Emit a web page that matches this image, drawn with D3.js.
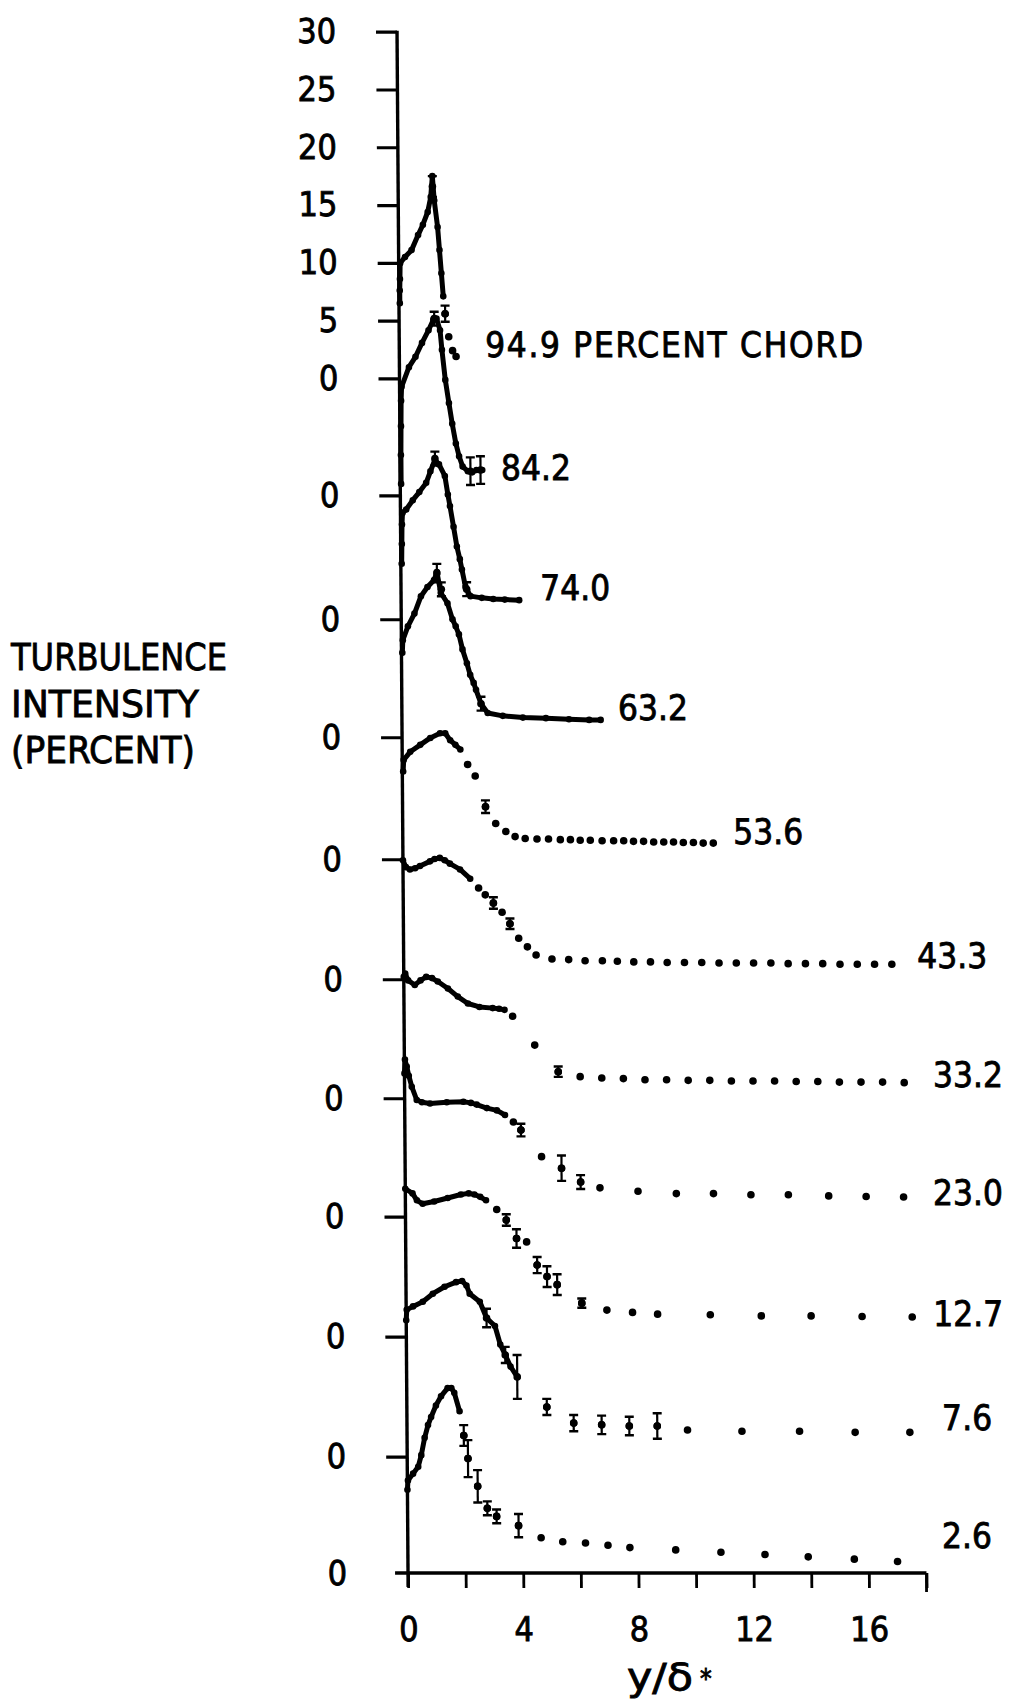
<!DOCTYPE html>
<html><head><meta charset="utf-8">
<script src="https://cdn.jsdelivr.net/npm/d3@7"></script>
<style>body{margin:0;background:#fff} svg{display:block} text{stroke:#000;stroke-width:0.8px}</style>
</head><body>
<svg id="c" width="1020" height="1702"></svg>
<script>
// ---------------- DATA ----------------
const stations = ["94.9","84.2","74.0","63.2","53.6","43.3","33.2","23.0","12.7","7.6","2.6"];
// zero of each curve, in percent units of the common intensity scale
const baseOffsets = [0, -10.13, -20.84, -31.05, -41.61, -51.99, -62.29, -72.54, -82.92, -93.3, -103.37];
const topTicks = [0, 5, 10, 15, 20, 25, 30];
const xTicks = [0, 2, 4, 6, 8, 10, 12, 14, 16, 18];
const xTickLabels = [0, 4, 8, 12, 16];

// dense (near-continuous) measurements: [y/delta*, intensity %]
const lineData = [
  [[0.03,6.5],[0.03,7.6],[0.04,8.6],[0.05,9.96],[0.22,10.5],[0.45,11.1],[0.68,12.4],[0.85,13.3],[1.02,14.4],[1.13,15.7],[1.19,17.5],[1.25,15.4],[1.36,13.1],[1.42,11.1],[1.48,9.1],[1.54,7.1]],
  [[0.03,1.0],[0.03,3.5],[0.04,6.0],[0.05,8.2],[0.07,9.4],[0.33,11.1],[0.56,12.0],[0.79,13.2],[1.02,14.3],[1.19,15.2],[1.3,15.3],[1.42,14.3],[1.48,12.6],[1.59,10.0],[1.71,8.0],[1.82,6.2],[1.94,4.5],[2.05,3.4],[2.17,2.5],[2.35,2.1],[2.5,2.0],[2.65,2.2],[2.85,2.2]],
  [[0.03,4.8],[0.04,6.5],[0.05,8.2],[0.07,9.2],[0.2,9.5],[0.43,10.3],[0.66,11.0],[0.9,11.8],[1.05,12.8],[1.21,13.8],[1.35,13.4],[1.55,12.4],[1.65,10.8],[1.72,9.8],[1.84,8.0],[1.95,6.3],[2.05,5.2],[2.12,4.3],[2.24,2.8],[2.41,2.0],[2.8,1.85],[3.2,1.75],[3.6,1.7],[4.1,1.65]],
  [[0.03,7.3],[0.05,8.4],[0.23,9.6],[0.46,10.7],[0.69,12.2],[0.92,13.0],[1.15,13.6],[1.25,14.3],[1.38,12.5],[1.61,11.6],[1.78,10.2],[1.89,9.6],[2.0,8.9],[2.12,7.6],[2.27,6.4],[2.38,5.4],[2.5,4.7],[2.58,4.1],[2.75,2.9],[2.98,2.1],[3.5,1.85],[4.2,1.7],[5.0,1.65],[5.8,1.55],[6.5,1.5],[6.9,1.5]],
  [[0.03,7.6],[0.05,8.6],[0.28,9.3],[0.63,9.9],[0.98,10.5],[1.32,10.9],[1.5,10.9],[1.67,10.3],[1.85,9.9],[2.02,9.5]],
  [[0.0,10.3],[0.1,9.7],[0.24,9.5],[0.42,9.6],[0.59,9.8],[0.94,10.2],[1.1,10.4],[1.28,10.5],[1.45,10.3],[1.63,10.0],[1.98,9.5],[2.33,8.7]],
  [[0.0,10.5],[0.05,10.8],[0.15,10.2],[0.38,9.8],[0.58,10.2],[0.78,10.5],[0.98,10.4],[1.18,10.1],[1.53,9.5],[1.87,8.8],[2.22,8.2],[2.62,7.9],[3.08,7.8],[3.3,7.75],[3.49,7.65]],
  [[0.0,12.4],[0.02,13.6],[0.08,13.0],[0.15,12.2],[0.25,11.25],[0.42,10.1],[0.6,9.9],[0.88,9.8],[1.46,9.9],[2.04,9.95],[2.3,9.85],[2.5,9.7],[2.85,9.4],[3.2,9.2],[3.48,8.8]],
  [[0.0,12.8],[0.25,12.4],[0.4,11.8],[0.6,11.5],[1.0,11.7],[1.47,12.0],[1.93,12.3],[2.2,12.4],[2.4,12.3],[2.6,12.1],[2.8,11.8]],
  [[0.0,11.8],[0.02,12.7],[0.24,13.0],[0.58,13.4],[0.93,14.1],[1.34,14.7],[1.74,15.1],[1.95,15.2],[2.1,14.8],[2.21,14.1],[2.56,13.4],[2.79,12.0],[3.08,11.3],[3.26,9.7],[3.43,8.8],[3.61,7.8],[3.84,6.9]],
  [[0.0,7.2],[0.02,8.0],[0.2,8.6],[0.38,9.2],[0.49,10.2],[0.61,11.7],[0.73,12.8],[0.84,13.5],[1.01,14.5],[1.19,15.3],[1.42,16.0],[1.55,16.0],[1.65,15.6],[1.83,14.0]]
];

// separate (sparse) measurement points
const dotData = [
  [[1.6,5.6],[1.72,3.6],[1.85,2.4],[1.97,1.9]],
  [],
  [],
  [],
  [[2.27,8.2],[2.53,7.2],[2.88,4.55],[3.23,3.1],[3.58,2.4],[3.9,1.96],[4.25,1.8],[4.66,1.75],[5.06,1.75],[5.47,1.7],[5.82,1.7],[6.16,1.65],[6.51,1.65],[6.92,1.6],[7.32,1.6],[7.67,1.6],[8.01,1.55],[8.36,1.55],[8.71,1.5],[9.06,1.5],[9.4,1.5],[9.74,1.45],[10.09,1.45],[10.43,1.4],[10.78,1.4]],
  [[2.62,7.9],[2.85,7.3],[3.13,6.6],[3.43,5.8],[3.7,4.8],[4.0,3.55],[4.3,2.8],[4.6,2.1],[5.15,1.75],[5.73,1.7],[6.3,1.6],[6.9,1.6],[7.42,1.55],[7.99,1.5],[8.57,1.5],[9.15,1.45],[9.75,1.45],[10.35,1.45],[10.95,1.4],[11.55,1.4],[12.15,1.4],[12.75,1.4],[13.35,1.35],[13.95,1.35],[14.55,1.35],[15.15,1.3],[15.75,1.3],[16.35,1.3],[16.95,1.3]],
  [[3.77,7.1],[4.53,4.6],[5.34,2.3],[6.1,1.87],[6.85,1.75],[7.6,1.7],[8.35,1.6],[9.1,1.6],[9.85,1.55],[10.6,1.55],[11.35,1.5],[12.1,1.5],[12.85,1.5],[13.6,1.45],[14.35,1.45],[15.1,1.4],[15.85,1.4],[16.6,1.4],[17.35,1.35]],
  [[3.77,8.2],[4.03,7.5],[4.74,5.2],[5.43,4.2],[6.09,3.0],[6.76,2.5],[8.08,2.2],[9.41,2.0],[10.7,2.0],[12.0,1.9],[13.3,1.9],[14.7,1.8],[16.0,1.75],[17.3,1.7]],
  [[3.17,11.0],[3.5,10.1],[3.85,8.5],[4.2,8.2],[4.56,6.2],[4.9,5.2],[5.25,4.5],[6.1,2.9],[6.97,2.3],[7.86,2.1],[8.73,1.95],[10.56,1.9],[12.33,1.8],[14.06,1.8],[15.83,1.75],[17.57,1.7]],
  [[4.86,4.3],[5.79,2.9],[6.76,2.75],[7.72,2.65],[8.69,2.65],[9.74,2.3],[11.63,2.2],[13.63,2.2],[15.56,2.1],[17.46,2.1]],
  [[1.97,11.9],[2.11,9.9],[2.44,7.5],[2.77,5.6],[3.09,4.9],[3.85,4.1],[4.63,3.05],[5.38,2.7],[6.17,2.6],[6.95,2.4],[7.71,2.2],[9.3,2.0],[10.87,1.8],[12.4,1.6],[13.9,1.4],[15.5,1.2],[17.0,1.0]]
];

// error bars: [y/delta*, intensity %, half range %]
const errData = [
  [[1.19,16.6,0.9],[1.6,5.6,0.7]],
  [[1.22,15.3,0.6],[2.44,2.1,1.2],[2.79,2.2,1.2]],
  [[1.21,13.9,0.6],[2.28,2.6,0.6]],
  [[1.25,14.2,0.8],[1.4,12.8,0.6],[2.75,2.9,0.6]],
  [[2.88,4.55,0.55]],
  [[3.13,6.6,0.5],[3.7,4.8,0.45]],
  [[5.34,2.3,0.45]],
  [[4.03,7.5,0.55],[5.43,4.2,1.1],[6.09,3.0,0.6]],
  [[3.5,10.1,0.5],[3.85,8.5,0.8],[4.56,6.2,0.7],[4.9,5.2,0.9],[5.25,4.5,0.9],[6.1,2.9,0.4]],
  [[2.79,12.0,0.8],[3.43,8.8,0.7],[3.84,6.9,1.9],[4.86,4.3,0.7],[5.79,2.9,0.7],[6.76,2.75,0.8],[7.72,2.65,0.8],[8.69,2.65,1.1]],
  [[1.97,11.9,0.9],[2.11,9.9,1.6],[2.44,7.5,1.4],[2.77,5.6,0.6],[3.09,4.9,0.6],[3.85,4.1,1.0]]
];

// label anchors (data units, relative to each curve's zero)
const labelAt = [[2.98,2.98],[3.5,2.47],[4.83,2.75],[7.5,2.62],[11.47,2.45],[17.83,2.1],[18.35,2.1],[18.32,2.13],[18.3,2.04],[18.58,3.4],[18.55,3.29]];

// ---------------- DRAW ----------------
const W = 1020, H = 1702;
const svg = d3.select('#c');
svg.append('rect').attr('width', W).attr('height', H).attr('fill', '#fff');
const FONT = '"DejaVu Sans Condensed","DejaVu Sans",sans-serif';
const shear = 0.00714; // slight skew of the scanned original
const g = svg.append('g').attr('transform', `skewX(${Math.atan(shear) * 180 / Math.PI})`);

const x = d3.scaleLinear().domain([0, 18]).range([396.8, 396.8 + 18 * 28.8]);
const y = d3.scaleLinear().domain([0, 30]).range([378.4, 31.7]);
const yBottom = y(baseOffsets[baseOffsets.length - 1]);

// vertical axis line
g.append('line').attr('x1', x(0)).attr('x2', x(0)).attr('y1', y(30) - 1).attr('y2', yBottom + 14)
  .attr('stroke', '#000').attr('stroke-width', 3.4);

// top scale
const topAxis = g.append('g').attr('transform', `translate(${x(0)},0)`)
  .call(d3.axisLeft(y).tickValues(topTicks).tickSize(21).tickPadding(40).tickFormat(d3.format('d')));
// zero ticks for the lower curves
const zeroAxis = g.append('g').attr('transform', `translate(${x(0)},0)`)
  .call(d3.axisLeft(y).tickValues(baseOffsets.slice(1, -1)).tickSize(21).tickPadding(40).tickFormat(() => '0'));
[topAxis, zeroAxis].forEach(a => {
  a.select('.domain').remove();
  a.selectAll('.tick line').attr('stroke', '#000').attr('stroke-width', 3.2);
  a.selectAll('.tick text').attr('fill', '#000').style('font-family', FONT).style('font-size', '34px');
});
// bottom zero label
g.append('text').attr('x', x(0) - 61).attr('y', yBottom).attr('dy', '0.36em')
  .attr('text-anchor', 'end').style('font-family', FONT).style('font-size', '34px').text('0');

// x axis
const xAxis = g.append('g').attr('transform', `translate(0,${yBottom})`)
  .call(d3.axisBottom(x).tickValues(xTicks).tickSize(15).tickPadding(29)
    .tickFormat(d => xTickLabels.includes(d) ? d : ''));
xAxis.select('.domain').remove();
xAxis.selectAll('.tick line').attr('stroke', '#000').attr('stroke-width', 2.8);
xAxis.selectAll('.tick text').attr('fill', '#000').style('font-family', FONT).style('font-size', '34px');
g.append('line').attr('x1', x(-0.45)).attr('x2', x(18)).attr('y1', yBottom).attr('y2', yBottom)
  .attr('stroke', '#000').attr('stroke-width', 3.6);
g.append('line').attr('x1', x(18)).attr('x2', x(18)).attr('y1', yBottom).attr('y2', yBottom + 19)
  .attr('stroke', '#000').attr('stroke-width', 2.8);

// curves
stations.forEach((st, k) => {
  const off = baseOffsets[k];
  const line = d3.line().x(d => x(d[0])).y(d => y(d[1] + off));
  const cg = g.append('g').attr('class', 'curve');
  cg.append('path').datum(lineData[k]).attr('d', line)
    .attr('fill', 'none').attr('stroke', '#000').attr('stroke-width', 5)
    .attr('stroke-linejoin', 'round').attr('stroke-linecap', 'round');
  cg.selectAll('circle.m').data(lineData[k]).join('circle').attr('class', 'm')
    .attr('cx', d => x(d[0])).attr('cy', d => y(d[1] + off)).attr('r', 3.3).attr('fill', '#000');
  cg.selectAll('circle.d').data(dotData[k]).join('circle').attr('class', 'd')
    .attr('cx', d => x(d[0])).attr('cy', d => y(d[1] + off)).attr('r', 3.8).attr('fill', '#000');
  const eg = cg.selectAll('g.e').data(errData[k]).join('g').attr('class', 'e');
  eg.append('line').attr('x1', d => x(d[0])).attr('x2', d => x(d[0]))
    .attr('y1', d => y(d[1] - d[2] + off)).attr('y2', d => y(d[1] + d[2] + off))
    .attr('stroke', '#000').attr('stroke-width', 2.2);
  [-1, 1].forEach(s => {
    eg.append('line').attr('x1', d => x(d[0]) - 4.5).attr('x2', d => x(d[0]) + 4.5)
      .attr('y1', d => y(d[1] + s * d[2] + off)).attr('y2', d => y(d[1] + s * d[2] + off))
      .attr('stroke', '#000').attr('stroke-width', 2.4);
  });
  eg.append('circle').attr('cx', d => x(d[0])).attr('cy', d => y(d[1] + off)).attr('r', 3.8).attr('fill', '#000');

  const lbl = g.append('text')
    .attr('x', x(labelAt[k][0])).attr('y', y(labelAt[k][1] + off)).attr('dy', '0.36em')
    .style('font-family', FONT).style('font-size', '35px').attr('fill', '#000')
    .text(k === 0 ? st + ' PERCENT CHORD' : st);
  if (k === 0) lbl.attr('textLength', 378).attr('lengthAdjust', 'spacing');
});

// y axis title
const titleLines = ['TURBULENCE', 'INTENSITY', '(PERCENT)'];
const titleLen = [216, 188, 184];
svg.selectAll('text.yt').data(titleLines).join('text').attr('class', 'yt')
  .attr('x', 11).attr('y', (d, i) => [670, 717, 763][i])
  .attr('textLength', (d, i) => titleLen[i]).attr('lengthAdjust', 'spacingAndGlyphs')
  .style('font-family', FONT).style('font-size', '38px').attr('fill', '#000').text(d => d);

// x axis title
svg.append('text').attr('x', 627).attr('y', 1690).attr('textLength', 66).attr('lengthAdjust', 'spacingAndGlyphs')
  .style('font-family', FONT).style('font-size', '38px').attr('fill', '#000').text('y/δ');
svg.append('text').attr('x', 700).attr('y', 1688)
  .style('font-family', FONT).style('font-size', '26px').attr('fill', '#000').text('*');
</script>
</body></html>
